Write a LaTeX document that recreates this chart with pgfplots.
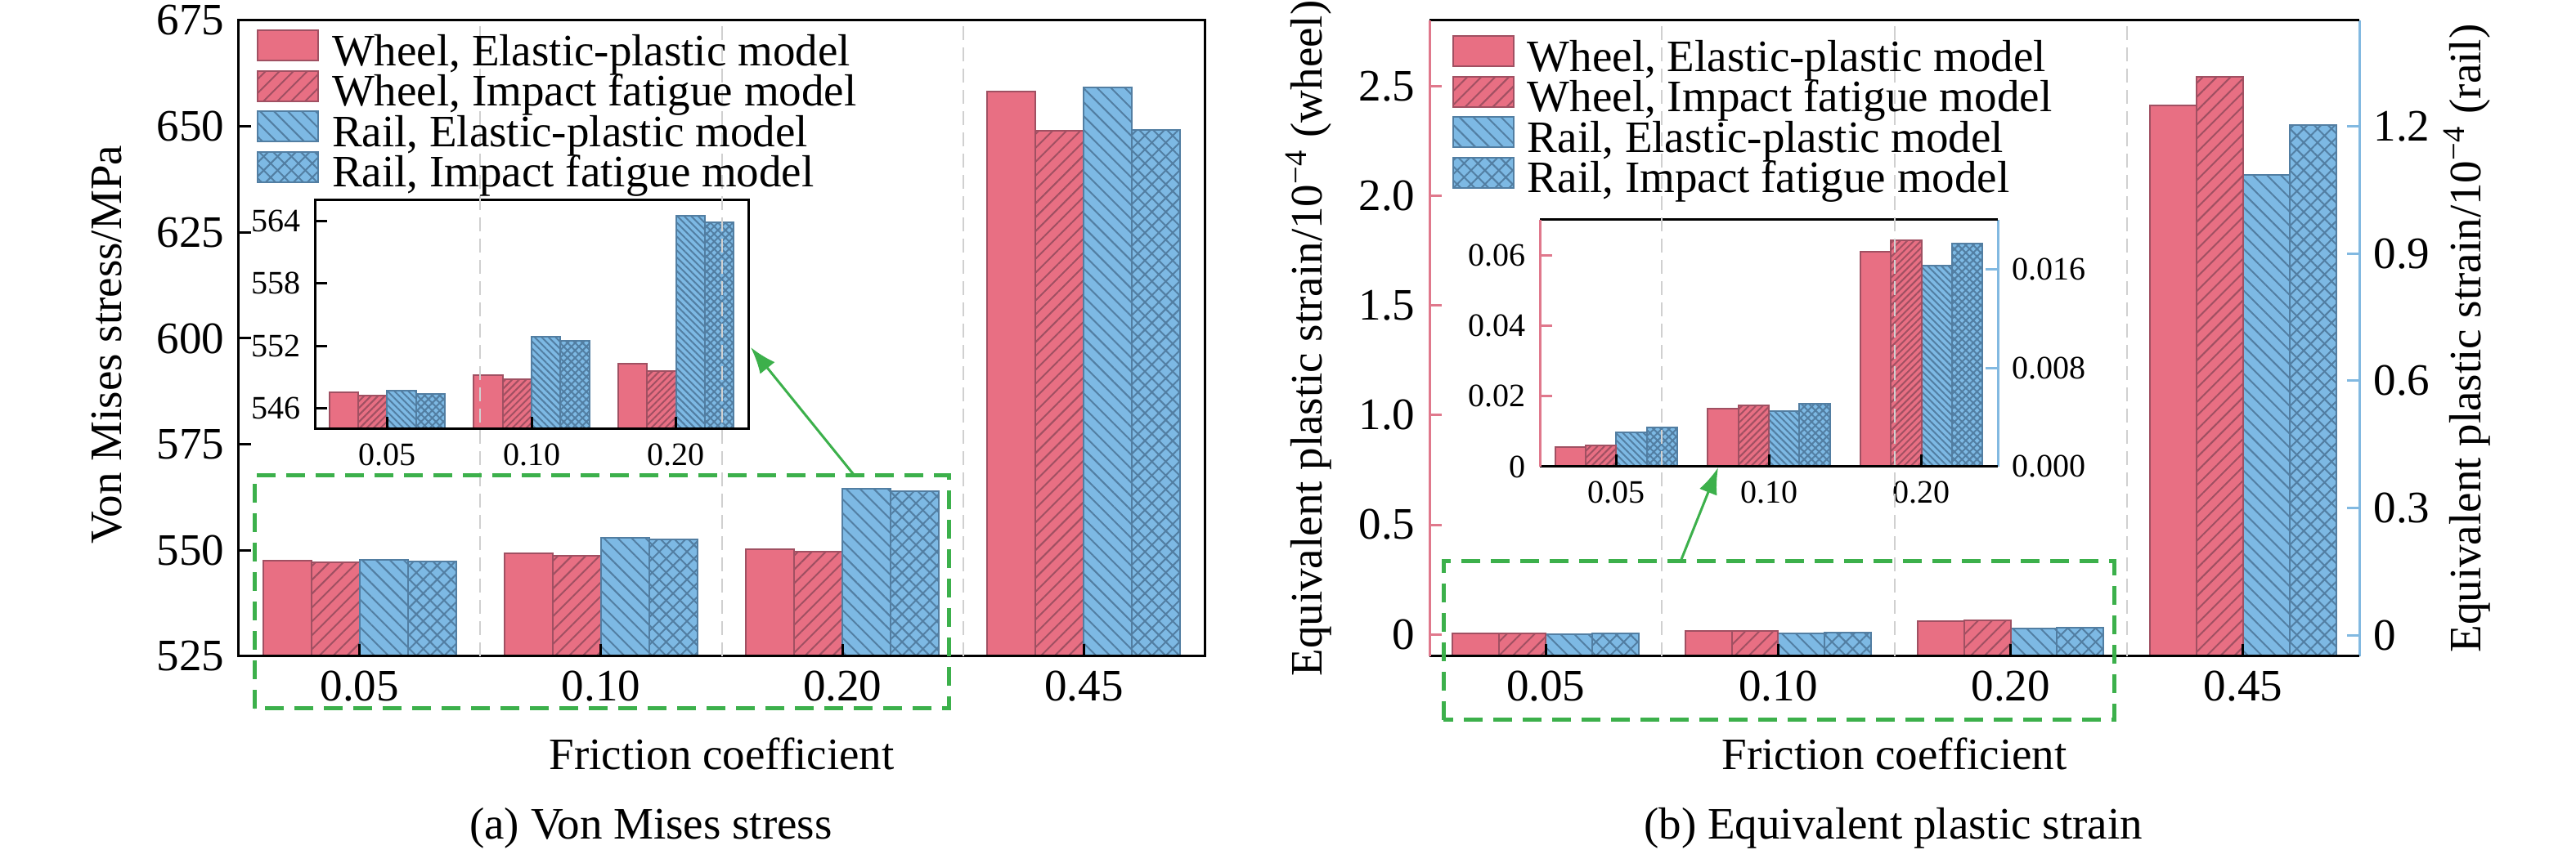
\documentclass[border=0pt]{standalone}
\usepackage{fontspec}
\setmainfont{Liberation Serif}
\usepackage{pgfplots}
\pgfplotsset{compat=1.18}
\usetikzlibrary{patterns.meta,arrows.meta}

\definecolor{pk}{RGB}{232,111,131}
\definecolor{pkd}{RGB}{160,80,98}
\definecolor{bl}{RGB}{125,185,228}
\definecolor{bld}{RGB}{82,126,162}
\definecolor{gr}{RGB}{60,176,75}
\definecolor{gridc}{RGB}{208,208,208}
\definecolor{pkax}{RGB}{224,120,140}
\definecolor{blax}{RGB}{130,185,225}

\tikzset{
  hWEP/.style={draw=pkd, fill=pk, line width=0.4pt},
  hWIF/.style={draw=pkd, fill=pk, line width=0.4pt, postaction={pattern={Lines[angle=45,distance=#1,line width=0.4pt]}, pattern color=pkd}},
  hWIF/.default=2.4pt,
  hREP/.style={draw=bld, fill=bl, line width=0.4pt, postaction={pattern={Lines[angle=-45,distance=#1,line width=0.4pt]}, pattern color=bld}},
  hREP/.default=2.4pt,
  hRIF/.style={draw=bld, fill=bl, line width=0.4pt, postaction={pattern={Hatch[angle=45,distance=#1,line width=0.4pt]}, pattern color=bld}},
  hRIF/.default=2.4pt,
}

\pgfplotsset{
  base/.style={scale only axis, anchor=south west, axis on top,
    scaled y ticks=false, scaled x ticks=false,
    tick align=inside, major tick length=3pt,
    tick style={line width=0.6pt, black},
    axis line style={line width=0.6pt},
    xtick pos=left, xticklabel pos=left,
    legend image code/.code={\draw[##1] (0pt,-1.3pt) rectangle (14.8pt,6.1pt);},
  },
  mainfont/.style={tick label style={font=\fontsize{11}{13}\selectfont},
    label style={font=\fontsize{11}{13}\selectfont},
    legend style={font=\fontsize{11}{13}\selectfont}},
  insetfont/.style={tick label style={font=\fontsize{8}{10}\selectfont}},
  gridx/.style={extra x ticks={0.5,1.5,2.5}, extra x tick labels={},
    extra x tick style={major tick length=0pt, grid=major},
    major grid style={gridc, line width=0.4pt, dash pattern=on 3.4pt off 1.8pt}},
  leg/.style={legend style={draw=none, fill=none, at={#1}, anchor=north west,
    inner sep=0pt, row sep=-1.4pt, nodes={inner sep=0pt, text height=7.5pt, text depth=2.5pt},
    /tikz/every odd column/.append style={column sep=3.2pt}},
    legend cell align=left},
  bars/.style={ybar, bar width=0.2, bar shift=#1},
}

\begin{document}
\begin{tikzpicture}
\path[use as bounding box] (0,0) rectangle (630pt,208pt);

%================ (a) inset =================
\begin{axis}[base, insetfont, at={(77pt,103pt)}, width=106pt, height=56pt,
  xmin=-0.5, xmax=2.5, ymin=544, ymax=566,
  xtick={0,1,2}, xticklabels={0.05,0.10,0.20},
  ytick={546,552,558,564}, yticklabels={546,552,558,564}, ytick pos=left]
\addplot[bars=-0.3, hWEP] coordinates {(0,547.5) (1,549.2) (2,550.3)};
\addplot[bars=-0.1, hWIF=1.2pt] coordinates {(0,547.2) (1,548.8) (2,549.6)};
\addplot[bars=0.1, hREP=1.2pt] coordinates {(0,547.7) (1,552.9) (2,564.5)};
\addplot[bars=0.3, hRIF=1.3pt] coordinates {(0,547.4) (1,552.5) (2,563.9)};
\end{axis}

%================ (a) main =================
\begin{axis}[base, mainfont, gridx, at={(58.4pt,47.4pt)}, width=236.2pt, height=155.6pt,
  xmin=-0.5, xmax=3.5, ymin=525, ymax=675,
  xtick={0,1,2,3}, xticklabels={0.05,0.10,0.20,0.45},
  ytick={525,550,575,600,625,650,675}, yticklabels={525,550,575,600,625,650,675}, ytick pos=left,
  xlabel={Friction coefficient}, ylabel={Von Mises stress/MPa},
  xlabel style={at={(axis description cs:0.5,-0.154)}, anchor=center},
  ylabel style={at={(axis description cs:-0.137,0.49)}, anchor=center, rotate=0},
  leg={(axis description cs:0.0178,0.987)}]
\addplot[bars=-0.3, hWEP] coordinates {(0,547.5) (1,549.2) (2,550.3) (3,658.3)};
\addlegendentry{Wheel, Elastic-plastic model}
\addplot[bars=-0.1, hWIF] coordinates {(0,547.2) (1,548.8) (2,549.6) (3,649.0)};
\addlegendentry{Wheel, Impact fatigue model}
\addplot[bars=0.1, hREP] coordinates {(0,547.7) (1,552.9) (2,564.5) (3,659.2)};
\addlegendentry{Rail, Elastic-plastic model}
\addplot[bars=0.3, hRIF] coordinates {(0,547.4) (1,552.5) (2,563.9) (3,649.2)};
\addlegendentry{Rail, Impact fatigue model}
\end{axis}

\draw[gr, line width=1pt, dash pattern=on 4.6pt off 2.6pt] (62.2pt,34.6pt) rectangle (232pt,91.6pt);
\draw[gr, line width=0.6pt, -{Latex[length=6.5pt,width=4.6pt]}] (209pt,91.6pt) -- (183.6pt,123pt);
\node[font=\fontsize{11}{13}\selectfont] at (159.2pt,5.4pt) {(a) Von Mises stress};

%================ (b) inset =================
\begin{axis}[base, insetfont, at={(376.6pt,93.8pt)}, width=112pt, height=60.4pt,
  axis x line=none, axis y line*=right, y axis line style={blax, line width=0.6pt},
  y tick style={blax},
  xmin=-0.5, xmax=2.5, ymin=0, ymax=0.02, xtick=\empty,
  ytick={0,0.008,0.016}, yticklabels={0.000,0.008,0.016}]
\addplot[bars=0.1, hREP=1.2pt] coordinates {(0,0.0028) (1,0.0045) (2,0.0163)};
\addplot[bars=0.3, hRIF=1.3pt] coordinates {(0,0.0032) (1,0.0051) (2,0.0181)};
\end{axis}
\begin{axis}[base, insetfont, at={(376.6pt,93.8pt)}, width=112pt, height=60.4pt,
  axis x line*=box, axis y line*=left, x axis line style={black, line width=0.6pt},
  y axis line style={pkax, line width=0.6pt}, y tick style={pkax},
  xmin=-0.5, xmax=2.5, ymin=0, ymax=0.07,
  xtick={0,1,2}, xticklabels={0.05,0.10,0.20},
  ytick={0,0.02,0.04,0.06}, yticklabels={0,0.02,0.04,0.06}]
\addplot[bars=-0.3, hWEP] coordinates {(0,0.0056) (1,0.0164) (2,0.0610)};
\addplot[bars=-0.1, hWIF=1.2pt] coordinates {(0,0.0061) (1,0.0173) (2,0.0642)};
\end{axis}

%================ (b) main =================
\begin{axis}[base, mainfont, at={(349.6pt,47.4pt)}, width=227.4pt, height=155.6pt,
  axis x line=none, axis y line*=right, y axis line style={blax, line width=0.6pt},
  y tick style={blax},
  y coord trafo/.code={\pgfmathparse{#1+0.05}}, y coord inv trafo/.code={\pgfmathparse{#1-0.05}},
  xmin=-0.5, xmax=3.5, ymin=-0.05, ymax=1.45, xtick=\empty,
  ytick={0,0.3,0.6,0.9,1.2}, yticklabels={0,0.3,0.6,0.9,1.2},
  ylabel={Equivalent plastic strain/10\textsuperscript{−4} (rail)},
  ylabel style={at={(axis description cs:1.116,0.5)}, anchor=center, rotate=0}]
\addplot[bars=0.1, hREP] coordinates {(0,0.0028) (1,0.0045) (2,0.0163) (3,1.085)};
\addplot[bars=0.3, hRIF] coordinates {(0,0.0032) (1,0.0051) (2,0.0181) (3,1.204)};
\end{axis}
\begin{axis}[base, mainfont, gridx, at={(349.6pt,47.4pt)}, width=227.4pt, height=155.6pt,
  axis x line*=box, axis y line*=left, x axis line style={black, line width=0.6pt},
  y axis line style={pkax, line width=0.6pt}, y tick style={pkax},
  y coord trafo/.code={\pgfmathparse{#1+0.1}}, y coord inv trafo/.code={\pgfmathparse{#1-0.1}},
  xmin=-0.5, xmax=3.5, ymin=-0.1, ymax=2.8,
  xtick={0,1,2,3}, xticklabels={0.05,0.10,0.20,0.45},
  ytick={0,0.5,1,1.5,2,2.5}, yticklabels={0,0.5,1.0,1.5,2.0,2.5},
  xlabel={Friction coefficient},
  ylabel={Equivalent plastic strain/10\textsuperscript{−4} (wheel)},
  xlabel style={at={(axis description cs:0.5,-0.154)}, anchor=center},
  ylabel style={at={(axis description cs:-0.130,0.5)}, anchor=center, rotate=0},
  leg={(axis description cs:0.0237,0.978)}]
\addplot[bars=-0.3, hWEP] coordinates {(0,0.0056) (1,0.0164) (2,0.0610) (3,2.414)};
\addlegendentry{Wheel, Elastic-plastic model}
\addplot[bars=-0.1, hWIF] coordinates {(0,0.0061) (1,0.0173) (2,0.0642) (3,2.544)};
\addlegendentry{Wheel, Impact fatigue model}
\addlegendimage{hREP}
\addlegendentry{Rail, Elastic-plastic model}
\addlegendimage{hRIF}
\addlegendentry{Rail, Impact fatigue model}
\end{axis}

\draw[gr, line width=1pt, dash pattern=on 4.6pt off 2.6pt] (353pt,31.8pt) rectangle (517pt,70.6pt);
\draw[gr, line width=0.6pt, -{Latex[length=6.5pt,width=4.6pt]}] (411pt,70.6pt) -- (420.2pt,93.6pt);
\node[font=\fontsize{11}{13}\selectfont] at (463pt,5.4pt) {(b) Equivalent plastic strain};
\end{tikzpicture}
\end{document}
